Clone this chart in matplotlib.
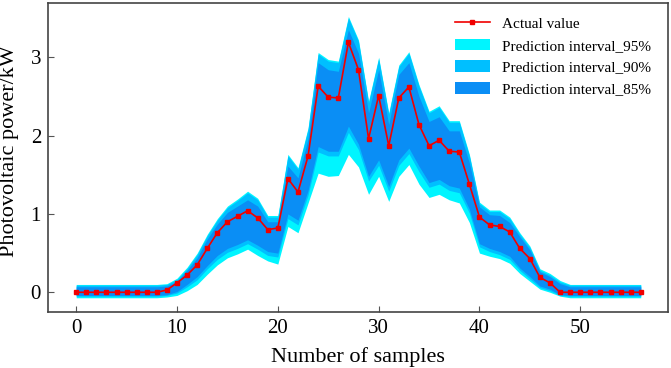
import matplotlib
matplotlib.use("Agg")
import matplotlib.pyplot as plt
import numpy as np

samples = list(range(57))

actual = [0, 0, 0, 0, 0, 0, 0, 0, 0, 0.03, 0.12, 0.22, 0.35, 0.56, 0.76, 0.90, 0.97, 1.04,
          0.95, 0.80, 0.82, 1.45, 1.28, 1.74, 2.63, 2.49, 2.48, 3.19, 2.84, 1.96, 2.51,
          1.87, 2.48, 2.62, 2.14, 1.87, 1.94, 1.80, 1.79, 1.38, 0.96, 0.86, 0.84, 0.77,
          0.56, 0.43, 0.19, 0.12, 0, 0, 0, 0, 0, 0, 0, 0, 0]

upper95 = [0.10] * 9 + [0.11, 0.18, 0.32, 0.50, 0.74, 0.94, 1.10, 1.19, 1.29, 1.20, 0.98,
          0.98, 1.76, 1.59, 2.10, 3.06, 2.97, 2.95, 3.52, 3.22, 2.44, 3.00, 2.29, 2.90,
          3.07, 2.65, 2.31, 2.38, 2.19, 2.19, 1.76, 1.15, 1.05, 1.05, 0.96, 0.76, 0.59,
          0.30, 0.24, 0.15] + [0.10] * 8
lower95 = [-0.07] * 9 + [-0.06, -0.04, 0.02, 0.10, 0.23, 0.35, 0.44, 0.49, 0.55, 0.47, 0.40,
          0.36, 0.84, 0.76, 1.14, 1.52, 1.48, 1.49, 1.76, 1.60, 1.25, 1.48, 1.16, 1.48,
          1.63, 1.38, 1.21, 1.25, 1.18, 1.14, 0.89, 0.50, 0.46, 0.43, 0.37, 0.24, 0.14,
          0.04, 0.00, -0.05] + [-0.07] * 8

upper90 = [0.09] * 9 + [0.10, 0.16, 0.30, 0.48, 0.72, 0.92, 1.08, 1.17, 1.27, 1.18, 0.96,
          0.96, 1.74, 1.57, 2.08, 3.04, 2.95, 2.93, 3.50, 3.20, 2.42, 2.98, 2.27, 2.88,
          3.05, 2.63, 2.29, 2.36, 2.17, 2.17, 1.74, 1.13, 1.03, 1.03, 0.94, 0.74, 0.57,
          0.28, 0.22, 0.13] + [0.09] * 8
lower90 = [-0.05] * 9 + [-0.04, -0.01, 0.07, 0.16, 0.30, 0.42, 0.51, 0.56, 0.62, 0.55, 0.47,
          0.45, 0.94, 0.86, 1.24, 1.79, 1.74, 1.74, 2.04, 1.82, 1.42, 1.62, 1.29, 1.62,
          1.77, 1.54, 1.34, 1.38, 1.30, 1.27, 1.01, 0.58, 0.52, 0.48, 0.42, 0.28, 0.17,
          0.06, 0.02, -0.04] + [-0.05] * 8

upper85 = [0.07] * 9 + [0.08, 0.14, 0.28, 0.44, 0.68, 0.87, 1.02, 1.10, 1.18, 1.10, 0.90,
          0.90, 1.61, 1.46, 1.96, 2.93, 2.84, 2.82, 3.35, 3.05, 2.29, 2.84, 2.14, 2.78,
          2.93, 2.50, 2.18, 2.24, 2.06, 2.06, 1.65, 1.09, 0.99, 0.98, 0.89, 0.71, 0.54,
          0.26, 0.20, 0.11] + [0.07] * 8
lower85 = [-0.04] * 9 + [-0.03, 0.01, 0.10, 0.20, 0.34, 0.47, 0.56, 0.61, 0.67, 0.60, 0.52,
          0.50, 1.00, 0.92, 1.30, 1.86, 1.80, 1.80, 2.12, 1.89, 1.48, 1.69, 1.35, 1.69,
          1.84, 1.61, 1.40, 1.44, 1.36, 1.33, 1.06, 0.62, 0.56, 0.52, 0.46, 0.31, 0.20,
          0.08, 0.04, -0.03] + [-0.04] * 8

xticks = [0, 10, 20, 30, 40, 50]
yticks = [0, 1, 2, 3]

plt.rcParams['font.family'] = ['Liberation Serif', 'DejaVu Serif']

fig = plt.figure(figsize=(6.71, 3.68), dpi=100)
ax = fig.add_axes([0.0715, 0.1525, 0.924, 0.839])

ax.fill_between(samples, lower95, upper95, color='#00F5FF', linewidth=0,
                label='Prediction interval_95%')
ax.fill_between(samples, lower90, upper90, color='#00BFFF', linewidth=0,
                label='Prediction interval_90%')
ax.fill_between(samples, lower85, upper85, color='#0A8EF5', linewidth=0,
                label='Prediction interval_85%')
ax.plot(samples, actual, color='#F00000', lw=1.2, marker='s', markersize=3.5,
        label='Actual value')

ax.set_xlim(-2.8, 58.7)
ax.set_ylim(-0.25, 3.69)
ax.set_xticks(xticks)
ax.set_yticks(yticks)
ax.tick_params(direction='in', length=4, width=0.8, labelsize=15, colors='#555555',
               labelcolor='black', pad=5)
for s in ax.spines.values():
    s.set_color('#444444')
    s.set_linewidth(1.2)

ax.set_xlabel('Number of samples', fontsize=16, labelpad=7)
ax.set_ylabel('Photovoltaic power/kW', fontsize=16)
ax.yaxis.set_label_coords(-0.046, 0.52)

handles, labels = ax.get_legend_handles_labels()
order = [3, 0, 1, 2]
ax.legend([handles[i] for i in order], [labels[i] for i in order],
          loc='upper right', frameon=False, fontsize=11, handlelength=2.3,
          handleheight=0.8, handletextpad=0.8, labelspacing=0.5, borderaxespad=0.5,
          bbox_to_anchor=(0.995, 1.0))

fig.savefig('out.png', dpi=100)
